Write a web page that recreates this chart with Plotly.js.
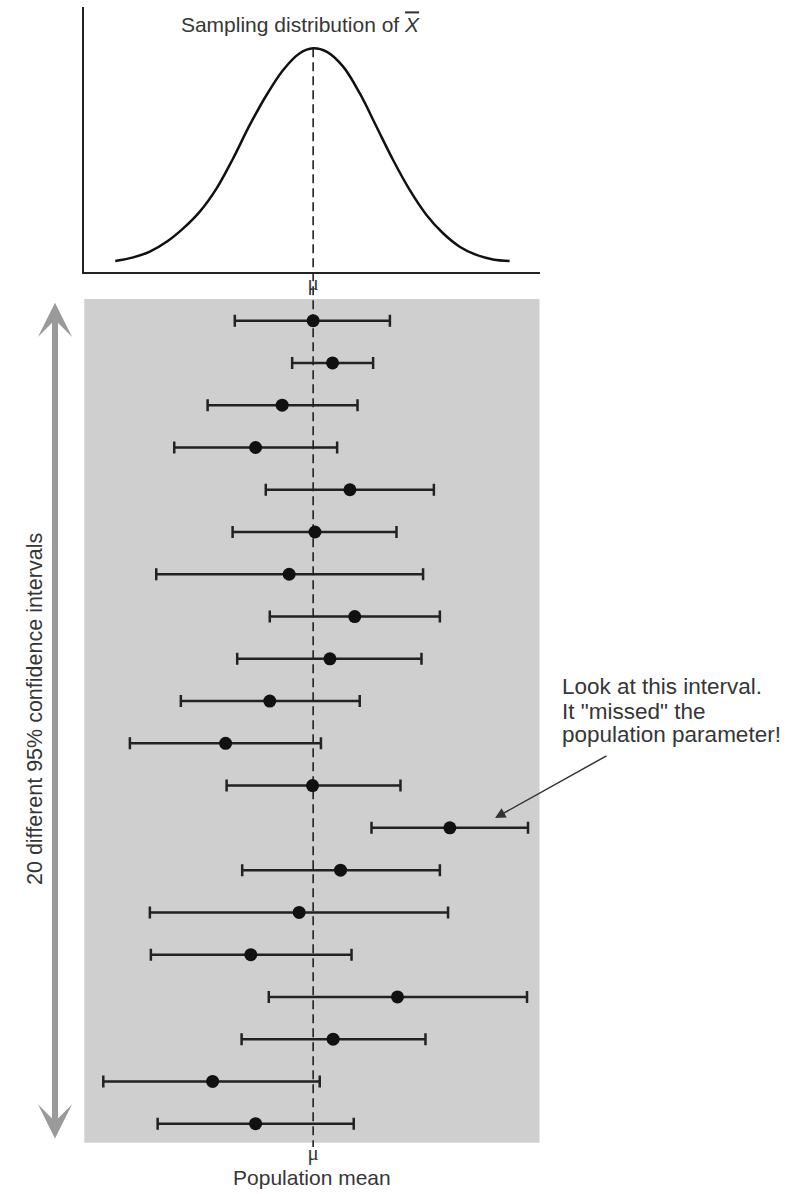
<!DOCTYPE html>
<html>
<head>
<meta charset="utf-8">
<script src="https://cdn.plot.ly/plotly-3.0.1.min.js"></script>
<style>html,body{margin:0;padding:0;background:#fff;}#chart{width:796px;height:1194px;}</style>
</head>
<body>
<div id="chart"></div>
<script>
// ---- data (x in units relative to the population mean mu = 0) ----
const intervalIds = [1,2,3,4,5,6,7,8,9,10,11,12,13,14,15,16,17,18,19,20];
const sampleMeans = [0, 0.97, -1.55, -2.88, 1.84, 0.09, -1.2, 2.08, 0.84, -2.17, -4.38, -0.03, 6.84, 1.37, -0.7, -3.12, 4.22, 1.0, -5.03, -2.88];
const lowerLimits = [-3.92, -1.05, -5.28, -6.95, -2.37, -4.03, -7.85, -2.17, -3.8, -6.62, -9.17, -4.33, 2.92, -3.55, -8.17, -8.12, -2.22, -3.58, -10.5, -7.78];
const upperLimits = [3.84, 3.0, 2.22, 1.2, 6.04, 4.17, 5.5, 6.34, 5.42, 2.33, 0.39, 4.37, 10.75, 6.34, 6.75, 1.92, 10.7, 5.62, 0.33, 2.03];

const curveX = [-9.9, -9.0, -8.17, -7.33, -6.5, -5.67, -4.83, -4.0, -3.17, -2.33, -1.5, -0.67, 0, 0.67, 1.5, 2.33, 3.17, 4.0, 4.83, 5.67, 6.5, 7.33, 8.17, 9.0, 9.83];
const curveY = [0.048, 0.064, 0.090, 0.134, 0.194, 0.269, 0.373, 0.508, 0.657, 0.791, 0.903, 0.978, 1.0, 0.985, 0.918, 0.799, 0.649, 0.5, 0.366, 0.254, 0.172, 0.112, 0.075, 0.055, 0.048];

const muValue = [0];
const muLabel = ['μ'];
const titleText = 'Sampling distribution of <i><span style="text-decoration:overline">X</span></i>';
const xTitle = 'Population mean';
const sideLabel = '20 different 95% confidence intervals';
const noteLines = ['Look at this interval.', 'It "missed" the', 'population parameter!'];

// ---- layout helpers (pixel -> paper) ----
const W = 796, H = 1194;
const px = v => v / W;
const py = v => 1 - v / H;
const SANS = 'Liberation Sans, Arial, sans-serif';
const SERIF = 'Liberation Serif, Times New Roman, serif';
const TXT = '#363636';

const curve = {
  x: curveX, y: curveY, xaxis: 'x', yaxis: 'y', type: 'scatter', mode: 'lines',
  line: {color: '#111', width: 2.5, shape: 'spline', smoothing: 1},
  hoverinfo: 'skip', showlegend: false
};

const intervals = {
  x: sampleMeans, y: intervalIds, xaxis: 'x2', yaxis: 'y2', type: 'scatter', mode: 'markers',
  marker: {color: '#111', size: 13},
  error_x: {
    type: 'data', symmetric: false,
    array: upperLimits.map((u, i) => u - sampleMeans[i]),
    arrayminus: sampleMeans.map((m, i) => m - lowerLimits[i]),
    color: '#222', thickness: 2.5, width: 6
  },
  showlegend: false
};

const xRange = [-11.45, 11.325];
const xDom = [px(84.3), px(539.5)];

const layout = {
  width: W, height: H,
  margin: {l: 0, r: 0, t: 0, b: 0},
  paper_bgcolor: '#ffffff',
  plot_bgcolor: 'rgba(0,0,0,0)',
  showlegend: false,
  font: {family: SANS, color: TXT, size: 21},
  title: {
    text: titleText, x: px(300), xanchor: 'center', xref: 'paper',
    y: py(25), yanchor: 'middle', yref: 'paper',
    font: {family: SANS, size: 21, color: TXT}
  },
  xaxis: {
    domain: xDom, range: xRange, anchor: 'y',
    showline: true, linecolor: '#222', linewidth: 2,
    showgrid: false, zeroline: false, ticks: '',
    tickvals: muValue, ticktext: muLabel, ticklabelstandoff: -9,
    tickfont: {family: SERIF, size: 21, color: TXT}
  },
  yaxis: {
    domain: [py(271.7), py(7)], range: [0, 1.185], anchor: 'x',
    showline: true, linecolor: '#222', linewidth: 2,
    showgrid: false, zeroline: false, showticklabels: false, ticks: ''
  },
  xaxis2: {
    domain: xDom, range: xRange, anchor: 'y2',
    showline: false, showgrid: false, zeroline: false, ticks: '',
    tickvals: muValue, ticktext: muLabel, ticklabelstandoff: -5,
    tickfont: {family: SERIF, size: 21, color: TXT},
    title: {text: xTitle, font: {family: SANS, size: 21, color: TXT}, standoff: 6}
  },
  yaxis2: {
    domain: [py(1142.7), py(299)], range: [20.449, 0.487], anchor: 'x2',
    showline: false, showgrid: false, zeroline: false, showticklabels: false, ticks: ''
  },
  shapes: [
    {type: 'rect', xref: 'paper', yref: 'paper', layer: 'below',
     x0: px(84.3), x1: px(539.5), y0: py(1142.7), y1: py(299),
     fillcolor: '#cfcfcf', line: {width: 0}},
    {type: 'line', xref: 'x2', yref: 'paper', layer: 'below',
     x0: muValue[0], x1: muValue[0], y0: py(48.3), y1: py(1147),
     line: {color: '#222', width: 1.6, dash: '9px,5px'}}
  ],
  annotations: [
    {text: sideLabel, xref: 'paper', yref: 'paper', x: px(35), y: py(709),
     xanchor: 'center', yanchor: 'middle', textangle: -90, showarrow: false,
     font: {family: SANS, size: 21.5, color: TXT}},
    {text: '', xref: 'paper', yref: 'paper', x: px(55), y: py(302.7),
     showarrow: true, axref: 'pixel', ayref: 'pixel', ax: 0, ay: 1140 - 302.7,
     arrowside: 'end+start', arrowhead: 3, arrowsize: 0.95, arrowwidth: 6,
     arrowcolor: '#9a9a9a', standoff: 0, startstandoff: 0},
    {text: '', xref: 'paper', yref: 'paper', x: px(495), y: py(818),
     showarrow: true, axref: 'pixel', ayref: 'pixel', ax: 113, ay: -63,
     arrowhead: 2, arrowsize: 1.4, arrowwidth: 1.5, arrowcolor: '#333', standoff: 0},
    {text: noteLines[0], xref: 'paper', yref: 'paper', x: px(560), y: py(686),
     xanchor: 'left', yanchor: 'middle', showarrow: false, font: {family: SANS, size: 22.5, color: TXT}},
    {text: noteLines[1], xref: 'paper', yref: 'paper', x: px(560), y: py(711),
     xanchor: 'left', yanchor: 'middle', showarrow: false, font: {family: SANS, size: 22.5, color: TXT}},
    {text: noteLines[2], xref: 'paper', yref: 'paper', x: px(560), y: py(735),
     xanchor: 'left', yanchor: 'middle', showarrow: false, font: {family: SANS, size: 22.5, color: TXT}}
  ]
};

Plotly.newPlot('chart', [curve, intervals], layout, {staticPlot: true, displayModeBar: false});
</script>
</body>
</html>
